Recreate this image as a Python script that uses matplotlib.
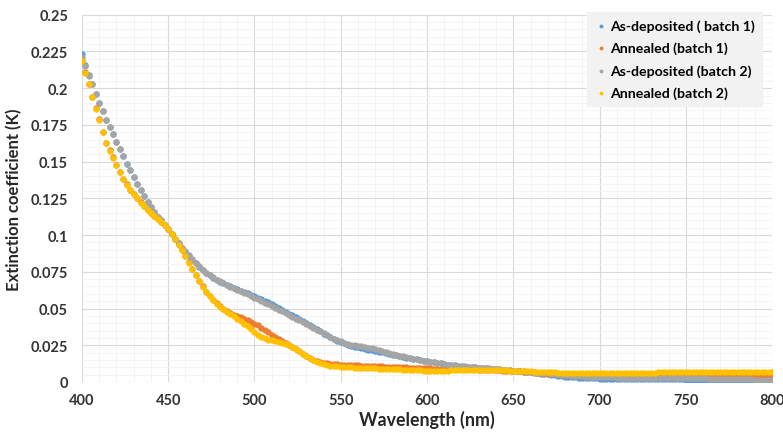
import numpy as np
import matplotlib
matplotlib.use("Agg")
import matplotlib.pyplot as plt
from matplotlib.ticker import MultipleLocator, FuncFormatter

wavelength = np.arange(400, 802, 2)

as_dep_b1 = [
    0.2235, 0.2160, 0.2090, 0.2028, 0.1962, 0.1902, 0.1846, 0.1786, 0.1736, 0.1686,
    0.1636, 0.1586, 0.1536, 0.1486, 0.1441, 0.1396, 0.1351, 0.1306, 0.1266, 0.1226,
    0.1190, 0.1156, 0.1126, 0.1100, 0.1070, 0.1040, 0.1009, 0.0975, 0.0944, 0.0914,
    0.0888, 0.0860, 0.0833, 0.0808, 0.0785, 0.0763, 0.0743, 0.0726, 0.0711, 0.0696,
    0.0683, 0.0671, 0.0660, 0.0650, 0.0640, 0.0631, 0.0622, 0.0613, 0.0603, 0.0593,
    0.0583, 0.0573, 0.0563, 0.0553, 0.0542, 0.0530, 0.0518, 0.0505, 0.0492, 0.0479,
    0.0466, 0.0453, 0.0440, 0.0427, 0.0414, 0.0400, 0.0386, 0.0372, 0.0358, 0.0344,
    0.0330, 0.0317, 0.0304, 0.0292, 0.0281, 0.0271, 0.0262, 0.0254, 0.0247, 0.0241,
    0.0236, 0.0231, 0.0226, 0.0221, 0.0216, 0.0211, 0.0206, 0.0201, 0.0196, 0.0191,
    0.0186, 0.0181, 0.0176, 0.0171, 0.0166, 0.0162, 0.0158, 0.0154, 0.0150, 0.0146,
    0.0142, 0.0138, 0.0134, 0.0130, 0.0126, 0.0122, 0.0119, 0.0116, 0.0113, 0.0110,
    0.0107, 0.0105, 0.0103, 0.0101, 0.0099, 0.0097, 0.0095, 0.0093, 0.0091, 0.0089,
    0.0087, 0.0085, 0.0083, 0.0081, 0.0079, 0.0077, 0.0075, 0.0073, 0.0071, 0.0069,
    0.0066, 0.0063, 0.0060, 0.0057, 0.0054, 0.0051, 0.0048, 0.0045, 0.0042, 0.0039,
    0.0037, 0.0035, 0.0033, 0.0031, 0.0029, 0.0028, 0.0027, 0.0026, 0.0025, 0.0024,
    0.0023, 0.0022, 0.0022, 0.0021, 0.0021, 0.0020, 0.0020, 0.0020, 0.0019, 0.0019,
    0.0019, 0.0019, 0.0019, 0.0018, 0.0018, 0.0018, 0.0018, 0.0018, 0.0018, 0.0017,
    0.0017, 0.0017, 0.0017, 0.0017, 0.0017, 0.0016, 0.0016, 0.0016, 0.0016, 0.0016,
    0.0016, 0.0016, 0.0015, 0.0015, 0.0015, 0.0015, 0.0015, 0.0015, 0.0015, 0.0015,
    0.0015, 0.0015, 0.0015, 0.0015, 0.0015, 0.0015, 0.0015, 0.0015, 0.0015, 0.0015,
    0.0015,
]

annealed_b1 = [
    0.2195, 0.2110, 0.2030, 0.1940, 0.1865, 0.1790, 0.1705, 0.1630, 0.1580, 0.1530,
    0.1480, 0.1430, 0.1385, 0.1345, 0.1310, 0.1280, 0.1250, 0.1222, 0.1196, 0.1172,
    0.1150, 0.1130, 0.1110, 0.1090, 0.1068, 0.1042, 0.1010, 0.0975, 0.0938, 0.0900,
    0.0860, 0.0815, 0.0770, 0.0728, 0.0688, 0.0650, 0.0615, 0.0585, 0.0558, 0.0535,
    0.0515, 0.0497, 0.0482, 0.0469, 0.0458, 0.0448, 0.0439, 0.0430, 0.0420, 0.0410,
    0.0398, 0.0385, 0.0370, 0.0354, 0.0338, 0.0322, 0.0306, 0.0291, 0.0277, 0.0264,
    0.0251, 0.0238, 0.0224, 0.0209, 0.0193, 0.0177, 0.0163, 0.0151, 0.0142, 0.0135,
    0.0130, 0.0127, 0.0124, 0.0122, 0.0120, 0.0118, 0.0117, 0.0116, 0.0115, 0.0114,
    0.0113, 0.0112, 0.0111, 0.0110, 0.0109, 0.0108, 0.0107, 0.0106, 0.0105, 0.0104,
    0.0103, 0.0102, 0.0101, 0.0100, 0.0099, 0.0098, 0.0097, 0.0096, 0.0095, 0.0094,
    0.0093, 0.0092, 0.0091, 0.0090, 0.0090, 0.0089, 0.0089, 0.0088, 0.0088, 0.0087,
    0.0087, 0.0086, 0.0086, 0.0085, 0.0085, 0.0084, 0.0084, 0.0083, 0.0082, 0.0081,
    0.0080, 0.0079, 0.0078, 0.0077, 0.0076, 0.0075, 0.0074, 0.0073, 0.0071, 0.0069,
    0.0067, 0.0065, 0.0063, 0.0061, 0.0059, 0.0057, 0.0055, 0.0053, 0.0052, 0.0051,
    0.0050, 0.0049, 0.0048, 0.0047, 0.0047, 0.0046, 0.0046, 0.0045, 0.0045, 0.0045,
    0.0045, 0.0045, 0.0045, 0.0045, 0.0045, 0.0045, 0.0045, 0.0046, 0.0046, 0.0046,
    0.0046, 0.0046, 0.0047, 0.0047, 0.0047, 0.0047, 0.0047, 0.0047, 0.0047, 0.0047,
    0.0047, 0.0047, 0.0047, 0.0047, 0.0047, 0.0047, 0.0047, 0.0047, 0.0046, 0.0046,
    0.0046, 0.0046, 0.0046, 0.0046, 0.0046, 0.0046, 0.0045, 0.0045, 0.0045, 0.0045,
    0.0045, 0.0045, 0.0045, 0.0044, 0.0044, 0.0044, 0.0044, 0.0043, 0.0043, 0.0043,
    0.0043,
]

as_dep_b2 = [
    0.2215, 0.2150, 0.2085, 0.2025, 0.1960, 0.1900, 0.1845, 0.1785, 0.1735, 0.1685,
    0.1635, 0.1585, 0.1535, 0.1485, 0.1440, 0.1395, 0.1350, 0.1305, 0.1265, 0.1225,
    0.1190, 0.1155, 0.1125, 0.1100, 0.1070, 0.1040, 0.1010, 0.0975, 0.0945, 0.0915,
    0.0890, 0.0862, 0.0835, 0.0810, 0.0787, 0.0765, 0.0745, 0.0728, 0.0712, 0.0697,
    0.0684, 0.0672, 0.0660, 0.0649, 0.0638, 0.0628, 0.0618, 0.0608, 0.0597, 0.0586,
    0.0574, 0.0563, 0.0551, 0.0540, 0.0528, 0.0516, 0.0504, 0.0492, 0.0480, 0.0468,
    0.0456, 0.0444, 0.0432, 0.0420, 0.0408, 0.0396, 0.0383, 0.0370, 0.0357, 0.0344,
    0.0331, 0.0318, 0.0306, 0.0295, 0.0285, 0.0276, 0.0268, 0.0261, 0.0255, 0.0250,
    0.0246, 0.0242, 0.0238, 0.0234, 0.0229, 0.0224, 0.0218, 0.0212, 0.0206, 0.0199,
    0.0192, 0.0186, 0.0180, 0.0174, 0.0168, 0.0163, 0.0158, 0.0154, 0.0150, 0.0146,
    0.0142, 0.0138, 0.0134, 0.0130, 0.0126, 0.0122, 0.0119, 0.0116, 0.0113, 0.0110,
    0.0108, 0.0106, 0.0104, 0.0102, 0.0100, 0.0098, 0.0096, 0.0094, 0.0092, 0.0090,
    0.0088, 0.0086, 0.0084, 0.0082, 0.0080, 0.0078, 0.0076, 0.0074, 0.0072, 0.0070,
    0.0068, 0.0066, 0.0064, 0.0062, 0.0060, 0.0058, 0.0056, 0.0054, 0.0052, 0.0050,
    0.0048, 0.0046, 0.0044, 0.0042, 0.0040, 0.0038, 0.0037, 0.0036, 0.0035, 0.0034,
    0.0033, 0.0032, 0.0032, 0.0031, 0.0031, 0.0030, 0.0030, 0.0030, 0.0029, 0.0029,
    0.0029, 0.0029, 0.0028, 0.0028, 0.0028, 0.0028, 0.0027, 0.0027, 0.0027, 0.0027,
    0.0027, 0.0026, 0.0026, 0.0026, 0.0026, 0.0025, 0.0025, 0.0025, 0.0025, 0.0024,
    0.0024, 0.0024, 0.0023, 0.0023, 0.0023, 0.0022, 0.0022, 0.0021, 0.0021, 0.0020,
    0.0020, 0.0019, 0.0019, 0.0018, 0.0017, 0.0016, 0.0015, 0.0014, 0.0013, 0.0012,
    0.0011,
]

annealed_b2 = [
    0.2185, 0.2105, 0.2025, 0.1937, 0.1860, 0.1785, 0.1700, 0.1625, 0.1575, 0.1528,
    0.1478, 0.1428, 0.1383, 0.1344, 0.1309, 0.1279, 0.1249, 0.1221, 0.1195, 0.1171,
    0.1149, 0.1129, 0.1109, 0.1089, 0.1066, 0.1040, 0.1008, 0.0972, 0.0935, 0.0897,
    0.0857, 0.0812, 0.0768, 0.0726, 0.0686, 0.0648, 0.0613, 0.0583, 0.0556, 0.0533,
    0.0513, 0.0495, 0.0478, 0.0462, 0.0446, 0.0430, 0.0414, 0.0397, 0.0378, 0.0358,
    0.0338, 0.0320, 0.0306, 0.0296, 0.0289, 0.0284, 0.0279, 0.0274, 0.0268, 0.0260,
    0.0250, 0.0238, 0.0224, 0.0209, 0.0193, 0.0177, 0.0162, 0.0148, 0.0137, 0.0128,
    0.0121, 0.0116, 0.0112, 0.0109, 0.0106, 0.0104, 0.0102, 0.0100, 0.0099, 0.0098,
    0.0097, 0.0096, 0.0095, 0.0094, 0.0093, 0.0092, 0.0091, 0.0090, 0.0089, 0.0088,
    0.0087, 0.0086, 0.0085, 0.0084, 0.0083, 0.0082, 0.0081, 0.0080, 0.0079, 0.0078,
    0.0077, 0.0077, 0.0077, 0.0077, 0.0078, 0.0078, 0.0078, 0.0079, 0.0079, 0.0080,
    0.0080, 0.0081, 0.0081, 0.0082, 0.0082, 0.0082, 0.0082, 0.0082, 0.0082, 0.0081,
    0.0081, 0.0080, 0.0080, 0.0079, 0.0078, 0.0077, 0.0076, 0.0075, 0.0074, 0.0073,
    0.0072, 0.0071, 0.0070, 0.0069, 0.0068, 0.0067, 0.0066, 0.0065, 0.0064, 0.0063,
    0.0062, 0.0061, 0.0061, 0.0060, 0.0060, 0.0059, 0.0059, 0.0059, 0.0058, 0.0058,
    0.0058, 0.0058, 0.0058, 0.0058, 0.0059, 0.0059, 0.0059, 0.0060, 0.0060, 0.0061,
    0.0061, 0.0062, 0.0062, 0.0063, 0.0063, 0.0064, 0.0064, 0.0065, 0.0065, 0.0066,
    0.0066, 0.0066, 0.0067, 0.0067, 0.0067, 0.0068, 0.0068, 0.0068, 0.0068, 0.0069,
    0.0069, 0.0069, 0.0069, 0.0069, 0.0069, 0.0069, 0.0069, 0.0069, 0.0069, 0.0069,
    0.0069, 0.0069, 0.0069, 0.0069, 0.0069, 0.0069, 0.0069, 0.0069, 0.0069, 0.0069,
    0.0069,
]

series_names = ["As-deposited ( batch 1)", "Annealed (batch 1)",
                "As-deposited (batch 2)", "Annealed (batch 2)"]
series_values = [as_dep_b1, annealed_b1, as_dep_b2, annealed_b2]
series_colors = ["#5B9BD5", "#ED7D31", "#A5A5A5", "#FFC000"]

plt.rcParams['font.family'] = ['Lato', 'DejaVu Sans']

fig = plt.figure(figsize=(7.83, 4.39), dpi=100)
ax = fig.add_axes([0.1047, 0.1276, 0.8813, 0.8366])

for name, vals, col in zip(series_names, series_values, series_colors):
    ax.scatter(wavelength, vals, s=21, color=col, label=name, linewidths=0, zorder=3)

ax.set_xlim(400, 800)
ax.set_ylim(0, 0.25)
ax.xaxis.set_major_locator(MultipleLocator(50))
ax.yaxis.set_major_locator(MultipleLocator(0.025))
ax.xaxis.set_minor_locator(MultipleLocator(10))
ax.yaxis.set_minor_locator(MultipleLocator(0.005))

def yfmt(v, pos):
    return f"{v:.3f}".rstrip("0").rstrip(".")
ax.yaxis.set_major_formatter(FuncFormatter(yfmt))

ax.grid(True, which='major', color='#d9d9d9', linewidth=0.8, zorder=0)
ax.grid(True, which='minor', color='#f2f2f2', linewidth=0.6, zorder=0)
ax.set_axisbelow(True)
for sp in ax.spines.values():
    sp.set_visible(False)
ax.tick_params(which='both', length=0)
ax.tick_params(axis='x', pad=8, labelsize=10.5, labelcolor='#333333')
ax.tick_params(axis='y', pad=10, labelsize=10.5, labelcolor='#333333')
for lbl in ax.get_xticklabels() + ax.get_yticklabels():
    lbl.set_fontweight('bold')

ax.set_xlabel("Wavelength (nm)", fontsize=12.8, fontweight='bold', color='#262626', labelpad=2)
ax.set_ylabel("Extinction coefficient (K)", fontsize=12, fontweight='bold', color='#262626', labelpad=6)

leg = ax.legend(loc='upper right', bbox_to_anchor=(0.985, 1.007), frameon=True,
                prop={'weight': 'bold', 'size': 10.2}, markerscale=0.6,
                handletextpad=0.1, borderpad=0.5, labelspacing=0.68,
                handlelength=1.0, fancybox=False, borderaxespad=0)
leg.get_frame().set_facecolor('#f2f2f2')
leg.get_frame().set_edgecolor('#f2f2f2')
leg.get_frame().set_alpha(1)

fig.savefig("out.png", dpi=100)
